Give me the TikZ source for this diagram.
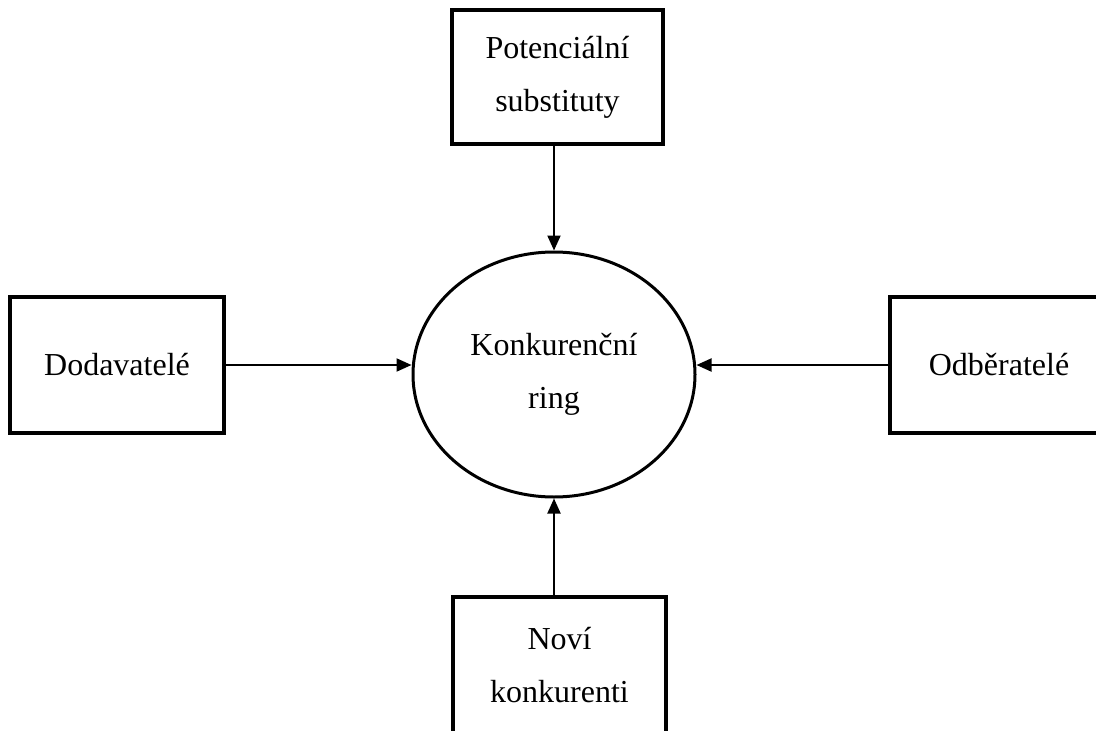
\documentclass[tikz,border=0pt]{standalone}
\usepackage{fontspec}
\setmainfont{Liberation Serif}
\usetikzlibrary{arrows.meta,shapes.geometric}
\begin{document}
\begin{tikzpicture}[x=1pt,y=-1pt,
  txt/.style={font=\fontsize{32}{53}\selectfont, align=center, inner sep=0pt},
  box/.style={txt, draw, line width=4pt, rectangle},
  ring/.style={txt, draw, line width=3pt, ellipse, inner sep=0pt},
  arr/.style={line width=2pt, -{Triangle[length=15pt,width=13pt]}}]
\clip (0,0) rectangle (1096,731);
\fill[white] (0,0) rectangle (1096,731);
\node[box, minimum width=211pt, minimum height=134pt] (top) at (557.5,77) {Potenciální\\substituty};
\node[box, minimum width=214pt, minimum height=136pt] (left) at (117,365) {Dodavatelé};
\node[box, minimum width=218pt, minimum height=136pt] (right) at (999,365) {Odběratelé};
\node[box, minimum width=213pt, minimum height=136pt] (bottom) at (559.5,665) {Noví\\konkurenti};
\node[ring, minimum width=282pt, minimum height=245pt] (ring) at (554,374.5) {Konkurenční\\ring};
\draw[arr] (top.south -| ring.north) -- (ring.north);
\draw[arr] (bottom.north -| ring.south) -- (ring.south);
\draw[arr] (left.east) -- (left.east -| ring.west);
\draw[arr] (right.west) -- (right.west -| ring.east);
\end{tikzpicture}
\end{document}
